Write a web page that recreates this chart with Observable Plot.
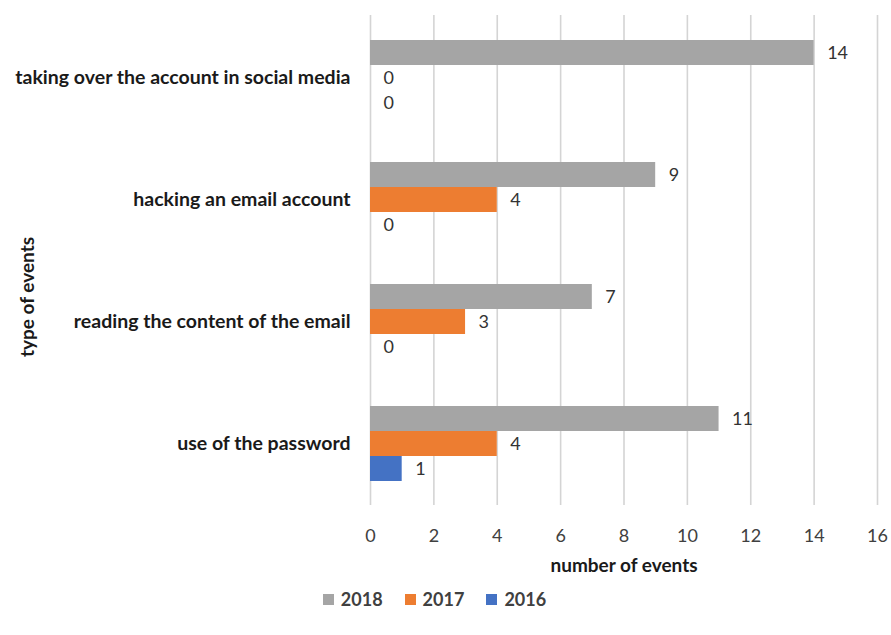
<!DOCTYPE html>
<html>
<head>
<meta charset="utf-8">
<script src="https://cdn.jsdelivr.net/npm/d3@7"></script>
<script src="https://cdn.jsdelivr.net/npm/@observablehq/plot@0.6"></script>
<style>
  body { margin: 0; background: #fff; font-family: Lato, "Open Sans", sans-serif; }
  #chart { width: 891px; position: relative; }
  .legend { display: flex; justify-content: center; gap: 22px; margin-left: -22px; margin-top: 8px; font: bold 18px Lato, sans-serif; color: #404040; }
  .legend span { display: inline-flex; align-items: center; }
  .legend i { display: inline-block; width: 11px; height: 11px; margin-right: 7px; }
  .ytitle { position: absolute; left: 26px; top: 297px; transform: translate(-50%, -50%) rotate(-90deg);
    font: bold 19px Lato, sans-serif; color: #1a1a1a; white-space: nowrap; }
</style>
</head>
<body>
<div id="chart"></div>
<script>
const categories = [
  "taking over the account in social media",
  "hacking an email account",
  "reading the content of the email",
  "use of the password"
];
const years = ["2018", "2017", "2016"];
const values2018 = [14, 9, 7, 11];
const values2017 = [0, 4, 3, 4];
const values2016 = [0, 0, 0, 1];
const xTicks = [0, 2, 4, 6, 8, 10, 12, 14, 16];
const colors = {"2018": "#a5a5a5", "2017": "#ed7d31", "2016": "#4472c4"};

const series = {"2018": values2018, "2017": values2017, "2016": values2016};
const rows = [];
for (const y of years) categories.forEach((c, i) => rows.push({category: c, year: y, value: series[y][i]}));

const barH = 25;
const slot = {"2018": 0, "2017": 1, "2016": 2};
const marks = [Plot.gridX(xTicks, {stroke: "#d4d4d4", strokeWidth: 1.6, strokeOpacity: 1})];
for (const y of years) {
  const k = slot[y];
  const d = rows.filter(r => r.year === y);
  marks.push(Plot.barX(d, {
    x: "value", y: "category", fill: colors[y],
    insetTop: k * barH, insetBottom: (2 - k) * barH
  }));
  marks.push(Plot.text(d, {
    x: "value", y: "category", text: d => String(d.value),
    textAnchor: "start", dx: 13, dy: (k - 1) * barH,
    fill: "#333", fontSize: 18
  }));
}
marks.push(Plot.axisY({tickSize: 0, tickPadding: 20, fontSize: 19.5, fontWeight: "bold", fill: "#1a1a1a", label: null}));
marks.push(Plot.axisX({ticks: xTicks, tickSize: 0, tickPadding: 24, fontSize: 18, fill: "#404040",
  label: "number of events", labelAnchor: "center", labelArrow: "none", labelOffset: 66}));

const plot = Plot.plot({
  width: 891,
  height: 580,
  marginLeft: 370,
  marginRight: 14,
  marginTop: 15,
  marginBottom: 75,
  style: {fontFamily: "Lato, 'Open Sans', sans-serif", overflow: "visible"},
  x: {domain: [0, 16]},
  y: {domain: categories, paddingInner: 0.388, paddingOuter: 0.194},
  marks
});
plot.querySelectorAll("[aria-label='x-axis label'] text, [aria-label='x-axis label']").forEach(e => {
  e.setAttribute("font-weight", "bold"); e.setAttribute("fill", "#1a1a1a"); e.setAttribute("font-size", "19");
});
const chart = document.getElementById("chart");
chart.appendChild(plot);

const yt = document.createElement("div");
yt.className = "ytitle";
yt.textContent = "type of events";
chart.appendChild(yt);

const legend = document.createElement("div");
legend.className = "legend";
for (const y of years) {
  const s = document.createElement("span");
  s.innerHTML = `<i style="background:${colors[y]}"></i>${y}`;
  legend.appendChild(s);
}
chart.appendChild(legend);
</script>
</body>
</html>
